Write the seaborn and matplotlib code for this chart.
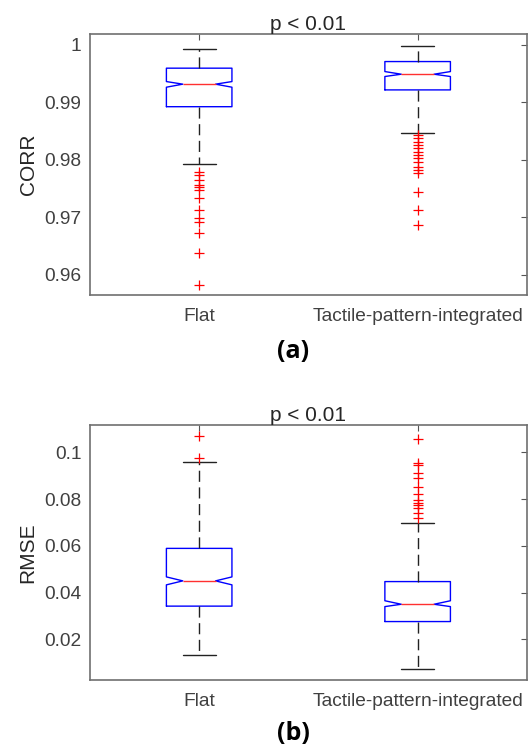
"""
Notched box plots of CORR and RMSE for Flat vs Tactile-pattern-integrated,
drawn in the MATLAB boxplot look (blue box, red median, dashed whiskers,
red '+' outliers). Box statistics are read from the reference figure.
"""

import matplotlib

matplotlib.use("Agg")
import matplotlib.pyplot as plt
import seaborn as sns

groups = ["Flat", "Tactile-pattern-integrated"]

# (a) CORR: whislo, q1, median, q3, whishi, notch low / high
corr_flat = [0.97936, 0.98925, 0.99317, 0.99595, 0.99925, 0.99264, 0.99362]
corr_tact = [0.98463, 0.99217, 0.99490, 0.99710, 0.99983, 0.99450, 0.99536]
corr_flat_out = [0.97797, 0.97739, 0.97652, 0.97565, 0.97536, 0.97478,
                 0.97334, 0.97130, 0.96986, 0.96927, 0.96725, 0.96377, 0.95826]
corr_tact_out = [0.98435, 0.98377, 0.98318, 0.98261, 0.98203, 0.98144,
                 0.98087, 0.98029, 0.97960, 0.97883, 0.97826, 0.97769,
                 0.97449, 0.97130, 0.96870]

# (b) RMSE
rmse_flat = [0.0133, 0.0342, 0.0450, 0.0589, 0.0960, 0.0433, 0.0467]
rmse_tact = [0.0072, 0.0276, 0.0350, 0.0447, 0.0698, 0.0340, 0.0365]
rmse_flat_out = [0.1071, 0.0974]
rmse_tact_out = [0.1056, 0.0956, 0.0946, 0.0910, 0.0889, 0.0850, 0.0822,
                 0.0796, 0.0785, 0.0775, 0.0760, 0.0742, 0.0718]

corr_ticks = [0.96, 0.97, 0.98, 0.99, 1.0]
corr_ticklabels = ["0.96", "0.97", "0.98", "0.99", "1"]
rmse_ticks = [0.02, 0.04, 0.06, 0.08, 0.1]
rmse_ticklabels = ["0.02", "0.04", "0.06", "0.08", "0.1"]


def make_stats(vals, fliers, label):
    lo, q1, med, q3, hi, cilo, cihi = vals
    return dict(label=label, whislo=lo, q1=q1, med=med, q3=q3, whishi=hi,
                cilo=cilo, cihi=cihi, fliers=fliers)


def draw_panel(ax, stats, ylim, ticks, ticklabels, ylabel):
    ax.bxp(
        stats,
        positions=[1, 2],
        widths=0.30,
        shownotches=True,
        boxprops=dict(color="#0000ff", linewidth=1.0),
        medianprops=dict(color="#ff3030", linewidth=1.0),
        whiskerprops=dict(color="#222222", linewidth=1.0, linestyle=(0, (8, 4))),
        capprops=dict(color="#222222", linewidth=1.0),
        flierprops=dict(marker="+", markeredgecolor="#ff0000",
                        markersize=7.5, markeredgewidth=0.9, linestyle="none"),
    )
    ax.set_xlim(0.5, 2.5)
    ax.set_ylim(*ylim)
    ax.set_yticks(ticks)
    ax.set_yticklabels(ticklabels)
    ax.set_xticks([1, 2])
    ax.set_xticklabels(groups)
    ax.set_title("p < 0.01", fontsize=15, color="#262626", pad=3)
    ax.set_ylabel(ylabel, fontsize=15, color="#262626", labelpad=5)
    ax.tick_params(direction="in", length=4, width=0.8, color="#555555",
                   labelsize=13.8, labelcolor="#404040",
                   top=True, right=True, pad=6)
    ax.tick_params(axis="x", pad=9.5)
    for sp in ax.spines.values():
        sp.set_visible(True)
        sp.set_color("#707070")
        sp.set_linewidth(1.2)


sns.set_theme(style="white")
plt.rcParams["font.family"] = ["Liberation Sans", "DejaVu Sans"]

fig = plt.figure(figsize=(5.29, 7.48), dpi=100)
ax1 = fig.add_axes([0.170, 0.6056, 0.826, 0.349])
ax2 = fig.add_axes([0.170, 0.0909, 0.826, 0.341])

draw_panel(ax1,
           [make_stats(corr_flat, corr_flat_out, groups[0]),
            make_stats(corr_tact, corr_tact_out, groups[1])],
           (0.9565, 1.0019), corr_ticks, corr_ticklabels, "CORR")
draw_panel(ax2,
           [make_stats(rmse_flat, rmse_flat_out, groups[0]),
            make_stats(rmse_tact, rmse_tact_out, groups[1])],
           (0.0026, 0.1117), rmse_ticks, rmse_ticklabels, "RMSE")

fig.text(0.554, 1 - 352 / 748, "(a)", ha="center", va="center",
         fontsize=18, fontweight="bold", family="Open Sans", color="black")
fig.text(0.554, 1 - 734 / 748, "(b)", ha="center", va="center",
         fontsize=18, fontweight="bold", family="Open Sans", color="black")

fig.savefig("out.png", dpi=100)
